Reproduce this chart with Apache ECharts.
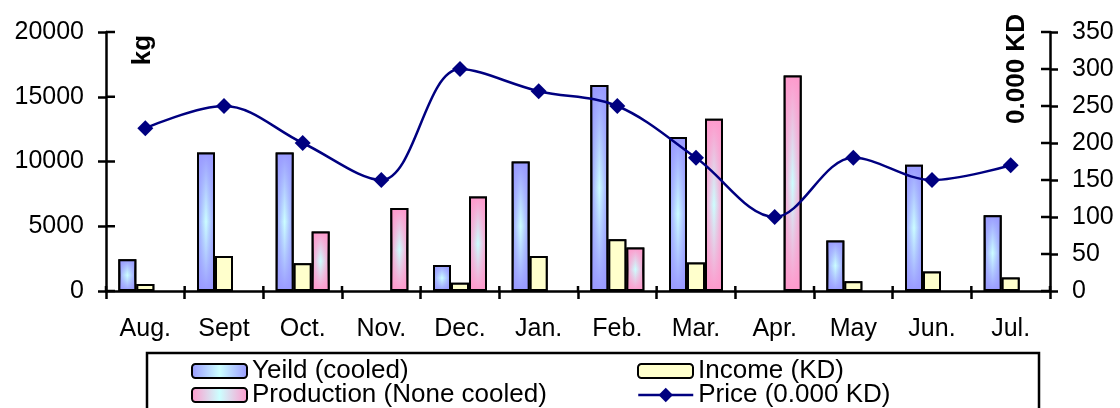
<!DOCTYPE html>
<html>
<head>
<meta charset="utf-8">
<script src="https://cdn.jsdelivr.net/npm/echarts@6/dist/echarts.min.js"></script>
<style>
  html, body { margin: 0; padding: 0; background: #fff; }
  #chart { width: 1120px; height: 408px; }
</style>
</head>
<body>
<div id="chart"></div>
<script>
// Monthly yield, income, production and price
const categories = ['Aug.', 'Sept', 'Oct.', 'Nov.', 'Dec.', 'Jan.', 'Feb.', 'Mar.', 'Apr.', 'May', 'Jun.', 'Jul.'];
const yieldCooled = [2450, 10700, 10700, null, 2000, 10000, 15900, 11900, null, 3900, 9750, 5850];
const incomeKD = [550, 2700, 2150, null, 640, 2700, 4000, 2200, null, 750, 1500, 1050];
const productionNoneCooled = [null, null, 4600, 6400, 7300, null, 3350, 13300, 16650, null, null, null];
const priceKD = [220, 250, 200, 150, 300, 270, 250, 180, 100, 180, 150, 170];

const leftTickValues = [0, 5000, 10000, 15000, 20000];
const rightTickValues = [0, 50, 100, 150, 200, 250, 300, 350];

const FONT = 'Liberation Sans, Arial, sans-serif';
const BLUE = '#9999FF', PINK = '#FF99CC', CYAN = '#CCFFFF', YELLOW = '#FFFFCC', NAVY = '#000080';

// horizontal fill: coloured edges, pale centre
function hGrad(edge) {
  return {
    type: 'linear', x: 0, y: 0, x2: 1, y2: 0,
    colorStops: [
      { offset: 0, color: edge },
      { offset: 0.5, color: CYAN },
      { offset: 1, color: edge }
    ]
  };
}
// vertical shade laid over the bars so the pale centre fades toward both ends
function vShade(rgb) {
  return {
    type: 'linear', x: 0, y: 0, x2: 0, y2: 1,
    colorStops: [
      { offset: 0, color: 'rgba(' + rgb + ',1)' },
      { offset: 0.5, color: 'rgba(' + rgb + ',0)' },
      { offset: 1, color: 'rgba(' + rgb + ',1)' }
    ]
  };
}

const BAR_W = 18;
const barBorder = { borderColor: '#000', borderWidth: 2 };

function mainBar(name, data, color) {
  return {
    name, type: 'bar', data, xAxisIndex: 0, yAxisIndex: 0,
    barWidth: BAR_W, barGap: '0%',
    itemStyle: Object.assign({ color }, barBorder),
    emphasis: { disabled: true }, animation: false
  };
}
function shadeBar(data, color) {
  return {
    type: 'bar', data, xAxisIndex: 1, yAxisIndex: 0,
    barWidth: BAR_W, barGap: '0%', silent: true,
    itemStyle: Object.assign({ color }, barBorder),
    emphasis: { disabled: true }, animation: false
  };
}

const axisLineStyle = { show: true, lineStyle: { color: '#000', width: 2.5 } };
const tickLabel = { color: '#000', fontSize: 25, fontFamily: FONT, formatter: v => String(v) };
const tickLine = { color: '#000', width: 2.5 };
const tickStroke = { stroke: '#000', lineWidth: 2.5 };

// inner halves of the axis ticks, so each tick crosses its axis line
function innerValueTicks(values, yAxisIndex, side, len) {
  return {
    type: 'custom', xAxisIndex: 0, yAxisIndex, silent: true, clip: false, z: 4,
    data: values.map(v => [0, v]),
    encode: { x: 0, y: 1 },
    renderItem(params, api) {
      const y = api.coord([0, api.value(1)])[1];
      const cs = params.coordSys;
      const x0 = side === 'left' ? cs.x : cs.x + cs.width;
      const dir = side === 'left' ? 1 : -1;
      return { type: 'line', shape: { x1: x0, y1: y, x2: x0 + dir * len, y2: y }, style: tickStroke };
    }
  };
}
function innerCategoryTicks(len) {
  return {
    type: 'custom', xAxisIndex: 0, yAxisIndex: 0, silent: true, clip: false, z: 4,
    data: categories.map((c, i) => [i, 0]),
    encode: { x: 0, y: 1 },
    renderItem(params, api) {
      const i = api.value(0);
      const band = api.size([1, 0])[0];
      const p = api.coord([i, 0]);
      const xs = [p[0] - band / 2];
      if (i === categories.length - 1) xs.push(p[0] + band / 2);
      return {
        type: 'group',
        children: xs.map(x => ({ type: 'line', shape: { x1: x, y1: p[1], x2: x, y2: p[1] - len }, style: tickStroke }))
      };
    }
  };
}

function legendItem(name, left, top, extra) {
  return Object.assign({
    data: [name], left, top, padding: 0, itemGap: 0,
    itemWidth: 55, itemHeight: 14, selectedMode: false,
    textStyle: { color: '#000', fontSize: 26, fontFamily: FONT, lineHeight: 24 }
  }, extra || {});
}

const chart = echarts.init(document.getElementById('chart'), null, { renderer: 'canvas' });

chart.setOption({
  backgroundColor: '#fff',
  animation: false,
  grid: { left: 106, right: 70, top: 32, bottom: 117, outerBoundsMode: 'none', containLabel: false },
  xAxis: [
    {
      type: 'category', data: categories, position: 'bottom',
      axisLine: axisLineStyle,
      axisTick: { show: true, inside: false, length: 8, interval: 0, lineStyle: tickLine },
      axisLabel: Object.assign({ margin: 26, interval: 0 }, tickLabel),
      splitLine: { show: false }
    },
    { type: 'category', data: categories, position: 'bottom', show: false }
  ],
  yAxis: [
    {
      type: 'value', position: 'left',
      min: leftTickValues[0], max: leftTickValues[leftTickValues.length - 1],
      interval: leftTickValues[1] - leftTickValues[0],
      axisLine: axisLineStyle,
      axisTick: { show: true, inside: false, length: 8, lineStyle: tickLine },
      axisLabel: Object.assign({ margin: 22 }, tickLabel),
      splitLine: { show: false }
    },
    {
      type: 'value', position: 'right',
      min: rightTickValues[0], max: rightTickValues[rightTickValues.length - 1],
      interval: rightTickValues[1] - rightTickValues[0],
      axisLine: axisLineStyle,
      axisTick: { show: true, inside: false, length: 8, lineStyle: tickLine },
      axisLabel: Object.assign({ margin: 22 }, tickLabel),
      splitLine: { show: false }
    }
  ],
  legend: [
    legendItem('Yeild (cooled)', 191, 358),
    legendItem('Production (None cooled)', 191, 382),
    legendItem('Income (KD)', 637, 358),
    legendItem('Price (0.000 KD)', 637, 382, { itemHeight: 18, lineStyle: { width: 2.5 } })
  ],
  graphic: [
    {
      type: 'rect', z: 0, silent: true,
      shape: { x: 147, y: 353, width: 892, height: 80 },
      style: { fill: 'none', stroke: '#000', lineWidth: 2.5 }
    },
    {
      type: 'text', x: 143, y: 50, rotation: Math.PI / 2, silent: true,
      style: { text: 'kg', fill: '#000', font: 'bold 26px ' + FONT, align: 'center', verticalAlign: 'middle' }
    },
    {
      type: 'text', x: 1017, y: 69, rotation: Math.PI / 2, silent: true,
      style: { text: '0.000 KD', fill: '#000', font: 'bold 26px ' + FONT, align: 'center', verticalAlign: 'middle' }
    }
  ],
  series: [
    mainBar('Yeild (cooled)', yieldCooled, hGrad(BLUE)),
    mainBar('Income (KD)', incomeKD, YELLOW),
    mainBar('Production (None cooled)', productionNoneCooled, hGrad(PINK)),
    shadeBar(yieldCooled, vShade('153,153,255')),
    shadeBar(incomeKD, YELLOW),
    shadeBar(productionNoneCooled, vShade('255,153,204')),
    innerValueTicks(leftTickValues, 0, 'left', 9),
    innerValueTicks(rightTickValues, 1, 'right', 9),
    innerCategoryTicks(5),
    {
      name: 'Price (0.000 KD)', type: 'line', data: priceKD,
      xAxisIndex: 0, yAxisIndex: 1, smooth: 0.35,
      symbol: 'diamond', symbolSize: 16, showSymbol: true,
      lineStyle: { color: NAVY, width: 2.5 },
      itemStyle: { color: NAVY, borderWidth: 0 },
      emphasis: { disabled: true }, z: 5, animation: false
    }
  ]
});
</script>
</body>
</html>
